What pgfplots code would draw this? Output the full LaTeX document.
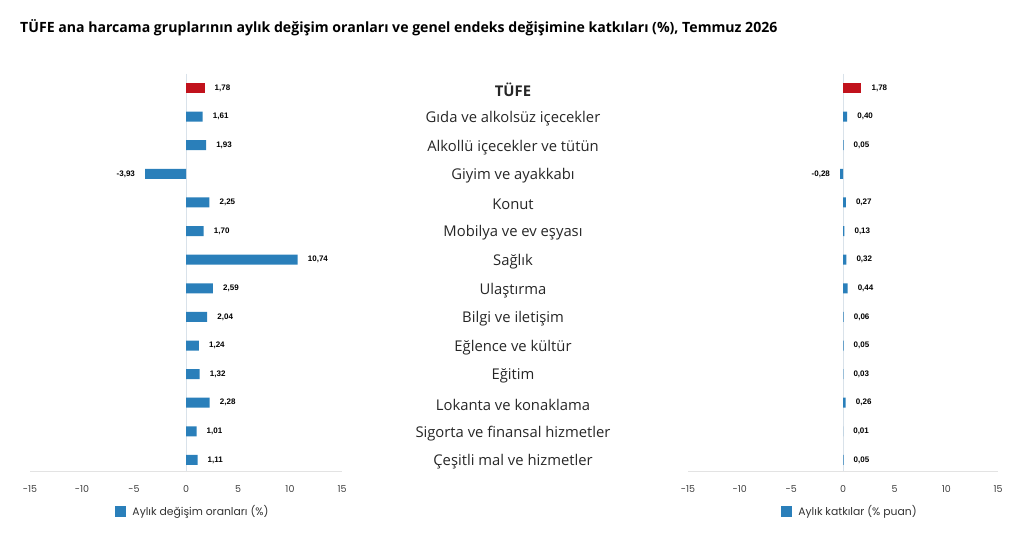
\documentclass[border=0pt]{standalone}
\usepackage{fontspec}
\setmainfont{Open Sans}
\newfontfamily\pop{Poppins}
\newfontfamily\ars{Liberation Sans}
\usepackage{pgfplots}
\pgfplotsset{compat=1.18}

\definecolor{barblue}{HTML}{2A7FBA}
\definecolor{barred}{HTML}{C1121C}
\definecolor{axgray}{HTML}{E3E3E3}
\definecolor{zerogray}{HTML}{D9E2EA}

\pgfplotsset{
  halfchart/.style={
    xbar, bar width=10pt, bar shift=0pt,
    scale only axis, width=312pt, height=397.7pt,
    xmin=-15, xmax=15, ymin=-0.5, ymax=13.4, y dir=reverse,
    xtick={-15,-10,...,15},
    xticklabels={\hbox{-15},\hbox{-10},\hbox{-5},\hbox{0},\hbox{5},\hbox{10},\hbox{15}},
    ytick=\empty,
    axis line style={draw=none}, major tick length=0pt,
    /pgf/number format/assume math mode=true,
    xticklabel style={font=\pop\fontsize{9.5}{11}\selectfont, text=black!75, yshift=-11pt},
    point meta=x,
    nodes near coords={\pgfmathprintnumber[fixed,fixed zerofill,precision=2,use comma]{\pgfplotspointmeta}},
    nodes near coords align=horizontal,
    every node near coord/.append style={font=\ars\bfseries\fontsize{8}{9}\selectfont, text=black, inner xsep=10pt},
    clip=false,
    legend style={draw=none, fill=none, font=\pop\fontsize{10.8}{12}\selectfont, text=black!80,
      at={(axis cs:0,13.4)}, anchor=north, yshift=-30pt, xshift=9pt,
      nodes={inner xsep=6pt}},
    legend image code/.code={\fill[##1] (0pt,-5.5pt) rectangle (11pt,5.5pt);},
  }
}

\begin{document}
\begin{tikzpicture}
\path[use as bounding box] (0,0) rectangle (1024pt,-536pt);
\node[anchor=base west, font=\bfseries\fontsize{14.1}{16}\selectfont, inner sep=0pt] at (20pt,-32pt)
  {TÜFE ana harcama gruplarının aylık değişim oranları ve genel endeks değişimine katkıları (\%), Temmuz 2026};

% monthly change rates
\begin{axis}[halfchart, at={(30pt,-471.4pt)}, anchor=south west,
  ytick={0,...,13}, yticklabel pos=right,
  yticklabels={\textbf{TÜFE}, Gıda ve alkolsüz içecekler, Alkollü içecekler ve tütün, Giyim ve ayakkabı,
    Konut, Mobilya ve ev eşyası, Sağlık, Ulaştırma, Bilgi ve iletişim, Eğlence ve kültür, Eğitim,
    Lokanta ve konaklama, Sigorta ve finansal hizmetler, Çeşitli mal ve hizmetler},
  yticklabel style={anchor=center, xshift=171pt, yshift=-2pt, font=\fontsize{14.8}{16}\selectfont, text=black!85}]
\draw[zerogray] (axis cs:0,-0.5) -- (axis cs:0,13.4);
\draw[axgray] (axis cs:-15,13.4) -- (axis cs:15,13.4);
\addplot[fill=barblue, draw=none] coordinates {
  (1.61,1) (1.93,2) (-3.93,3) (2.25,4) (1.70,5) (10.74,6) (2.59,7)
  (2.04,8) (1.24,9) (1.32,10) (2.28,11) (1.01,12) (1.11,13)};
\addlegendentry{Aylık değişim oranları (\%)}
\addplot[fill=barred, draw=none, forget plot] coordinates {(1.78,0)};
\end{axis}

% contributions
\begin{axis}[halfchart, at={(688pt,-471.4pt)}, anchor=south west, width=310pt]
\draw[zerogray] (axis cs:0,-0.5) -- (axis cs:0,13.4);
\draw[axgray] (axis cs:-15,13.4) -- (axis cs:15,13.4);
\addplot[fill=barblue, draw=none] coordinates {
  (0.40,1) (0.05,2) (-0.28,3) (0.27,4) (0.13,5) (0.32,6) (0.44,7)
  (0.06,8) (0.05,9) (0.03,10) (0.26,11) (0.01,12) (0.05,13)};
\addlegendentry{Aylık katkılar (\% puan)}
\addplot[fill=barred, draw=none, forget plot] coordinates {(1.78,0)};
\end{axis}
\end{tikzpicture}
\end{document}
